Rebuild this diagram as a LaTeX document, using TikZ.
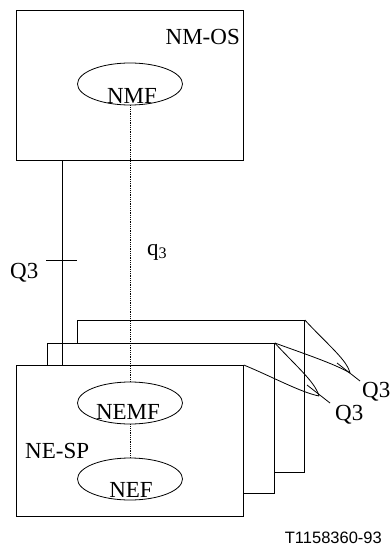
\documentclass[tikz,border=0pt]{standalone}
\usepackage{fontspec}
\setmainfont{Liberation Serif}
\setsansfont{Liberation Sans}
\usetikzlibrary{shapes.geometric}

\begin{document}
\begin{tikzpicture}[x=1pt, y=-1pt,
    unit/.style={draw, fill=white, line width=0.8pt, anchor=north west,
                 minimum width=227pt, inner sep=0pt},
    func/.style={ellipse, draw, line width=0.8pt, inner sep=0pt,
                 minimum width=105pt, minimum height=42pt},
    lbl/.style={inner sep=0pt, font=\fontsize{23}{27}\selectfont},
    link/.style={line width=0.8pt},
    mlink/.style={line width=0.7pt, dash pattern=on 0.9pt off 0.9pt}
]
\useasboundingbox (0,0) rectangle (391,548);

% Management system on top
\node[unit, minimum height=150pt] (nmos) at (16,10) {};
\node[func] (nmf) at (130,84) {};
\node[lbl, anchor=base east] (nmos-lbl) at (240,45) {NM-OS};
\node[lbl, anchor=base] (nmf-lbl) at (132,104) {NMF};

% stacked network elements, back to front
\node[unit, minimum height=152pt] (ne3) at (77,320) {};
\node[unit, minimum height=150pt] (ne2) at (47,343) {};
\node[unit, minimum height=151pt] (nesp) at (16,365) {};
\node[func] (nemf) at (130,403) {};
\node[func] (nef) at (130,479) {};
\node[lbl, anchor=base] (nemf-lbl) at (128,419) {NEMF};
\node[lbl, anchor=base] (nef-lbl) at (131,497) {NEF};
\node[lbl, anchor=base west] (nesp-lbl) at (25,458) {NE-SP};

% interfaces
\draw[link] ([xshift=46pt]nmos.south west) -- ([xshift=46pt]nesp.north west);
\coordinate (tick) at (62,260);
\draw[link] ([xshift=-16pt]tick) -- ([xshift=15pt]tick);
\node[lbl, anchor=base west] (q3-lbl) at (10,278) {Q3};
\draw[mlink] (nmf.south) -- (nemf.north);
\draw[mlink] (nemf.south) -- (nef.north);
\node[lbl, anchor=base west] (q3s-lbl) at (147,255) {q\textsubscript{3}};

% Q3 between the elements
\coordinate (tip1) at (350,373);
\coordinate (tip2) at (319,396);
\draw[link] (ne3.north east) .. controls (328,345) and (347,360) .. (tip1);
\draw[link] (ne2.north east) .. controls (305,354) and (335,364) .. (tip1);
\draw[link] ([shift={(-13,-10)}]tip1) -- ([shift={(10,8)}]tip1);
\draw[link] (ne2.north east) .. controls (298,368) and (315,382) .. (tip2);
\draw[link] (nesp.north east) .. controls (275,378) and (300,392) .. (tip2);
\draw[link] ([shift={(-12,-11)}]tip2) -- ([shift={(11,7)}]tip2);
\node[lbl, anchor=base west] (q3a-lbl) at (362,397) {Q3};
\node[lbl, anchor=base west] (q3b-lbl) at (335,420) {Q3};

\node[inner sep=0pt, anchor=base east, font=\sffamily\fontsize{16.5}{19}\selectfont]
    (fig-id) at (382,543) {T1158360-93};
\end{tikzpicture}
\end{document}
